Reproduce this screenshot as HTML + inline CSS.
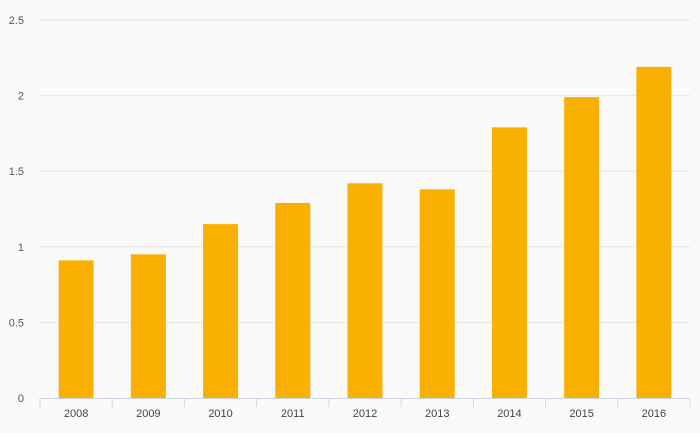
<!DOCTYPE html>
<html><head><meta charset="utf-8"><style>
body{margin:0;background:#fafafa;}
svg{display:block;font-family:"Liberation Sans",sans-serif;}
</style></head><body>
<svg id="chart" width="700" height="433">
<rect width="700" height="433" fill="#fafafa"/>
<g id="grid"></g><g id="bars"></g><g id="axes"></g>
</svg>
<script>
const categories=["2008","2009","2010","2011","2012","2013","2014","2015","2016"];
const values=[0.91,0.95,1.15,1.29,1.42,1.38,1.79,1.99,2.19];
const yTicks=[0,0.5,1,1.5,2,2.5];
const yTickLabels=["0","0.5","1","1.5","2","2.5"];
const NS="http://www.w3.org/2000/svg";
const L=40,R=690,T=20,B=398,yMax=2.5;
const y=v=>B-(v/yMax)*(B-T);
const bw=(R-L)/categories.length;
const x=i=>L+bw*(i+0.5);
function mk(t,a,p){const e=document.createElementNS(NS,t);for(const k in a)e.setAttribute(k,a[k]);p.appendChild(e);return e;}
const grid=document.getElementById('grid'),bars=document.getElementById('bars'),axes=document.getElementById('axes');
yTicks.forEach((v,i)=>{
 if(v>0){const g=mk('line',{x1:L,x2:R,y1:y(v),y2:y(v),stroke:'#e6e6e6','stroke-width':1},grid);
 
 }
 const t=mk('text',{x:24,y:y(v)+4,'text-anchor':'end','font-size':11,fill:'#555'},axes);
 t.textContent=yTickLabels[i];
 
 
});
categories.forEach((c,i)=>{
 const r=mk('rect',{x:x(i)-17.5,y:y(values[i]),width:35,height:B-y(values[i]),fill:'#f9b000'},bars);
 
 
 const t=mk('text',{x:x(i),y:417,'text-anchor':'middle','font-size':11,fill:'#444'},axes);
 t.textContent=c;
 
 
});
const ax=mk('line',{x1:L,x2:R,y1:B+0.5,y2:B+0.5,stroke:'#ccd6eb','stroke-width':1},axes);


for(let i=0;i<=categories.length;i++){
 const tk=mk('line',{x1:L+bw*i,x2:L+bw*i,y1:B,y2:B+9,stroke:'#ccd6eb','stroke-width':1},axes);
 
 
}
</script>
</body></html>
